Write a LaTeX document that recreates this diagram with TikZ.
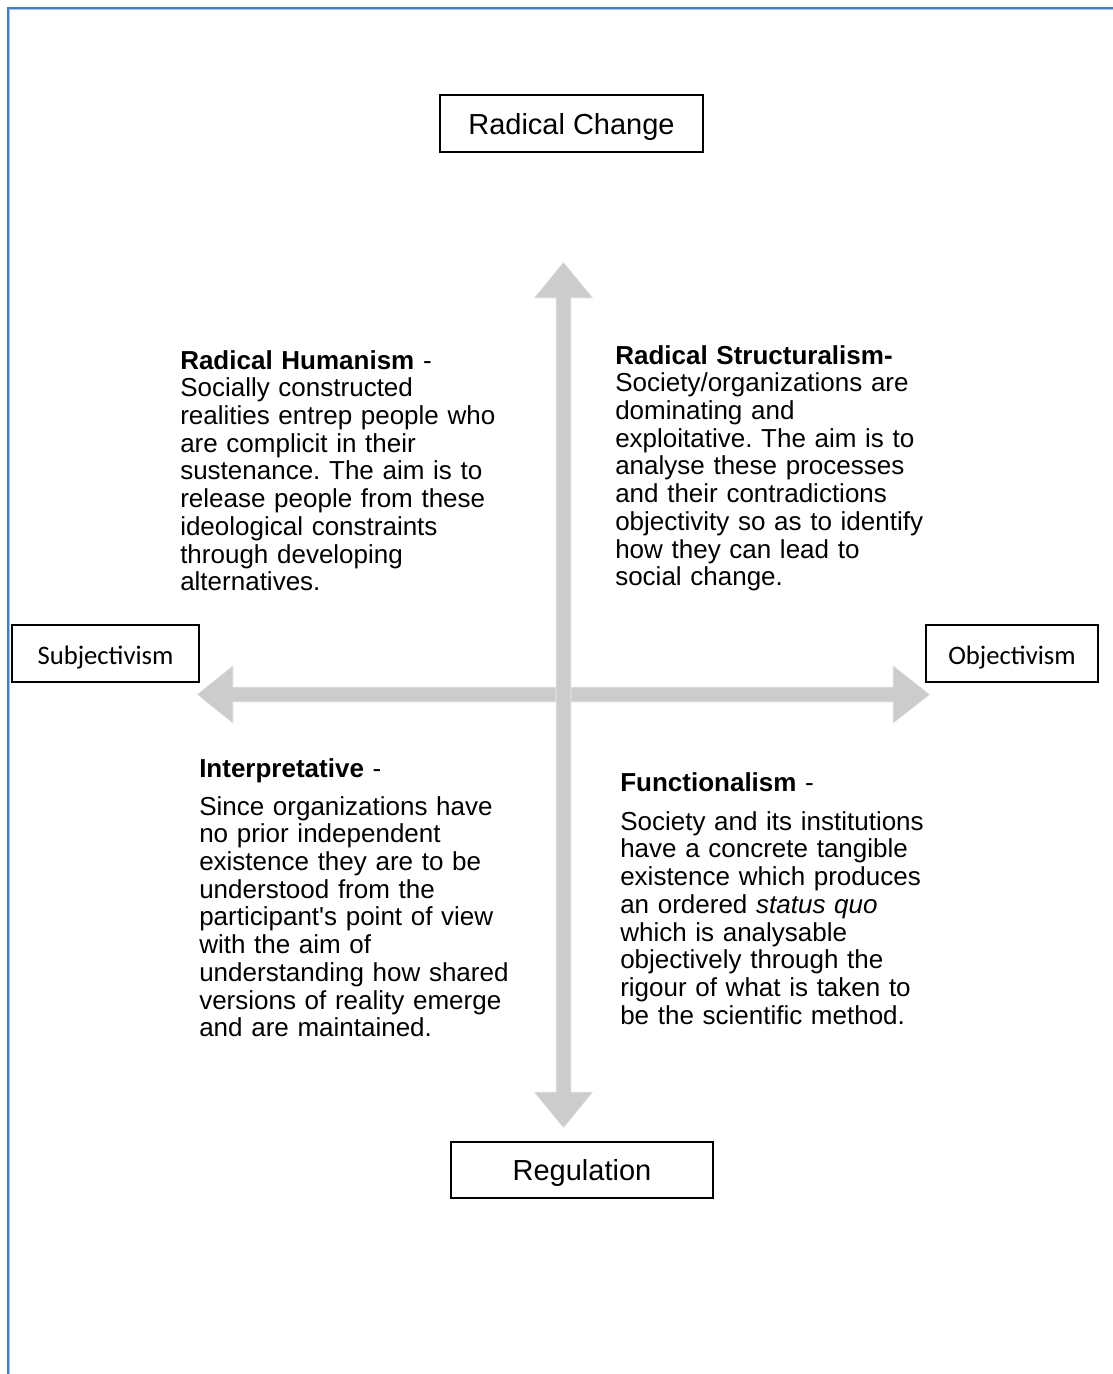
\documentclass[tikz,border=0pt]{standalone}
\usepackage{fontspec}
\setmainfont{Liberation Sans}[Ligatures=TeXOff]
\newfontfamily\labelfont{Carlito}
\usetikzlibrary{calc}
\definecolor{axisgrey}{HTML}{CCCCCC}
\definecolor{frameblue}{HTML}{4A7EBB}
\definecolor{framelight}{HTML}{A9C2E0}
\tikzset{
  polebox/.style={draw=black, line width=1.3pt, inner sep=0pt, align=center,
    text height=21pt, text depth=4.6pt,
    font=\fontsize{21.75}{25}\selectfont},
  sidebox/.style={draw=black, line width=1.3pt, inner sep=0pt, align=center,
    minimum height=42.75pt, text height=20pt, text depth=4pt,
    font=\labelfont\fontsize{20}{24}\selectfont},
  quadtext/.style={anchor=base west, inner sep=0pt, align=left, text width=270pt,
    font=\fontsize{19.5}{20.8}\selectfont},
  axisarrow/.style={fill=axisgrey, draw=gray!12, line width=0.4pt},
}
\begin{document}
\frenchspacing
\begin{tikzpicture}[x=0.75pt, y=-0.75pt]
\useasboundingbox (0,0) rectangle (1113,1374);

% page frame (left and top edges)
\draw[framelight, line width=0.8pt] (9.6,1374) -- (9.6,9.6) -- (1113,9.6);
\draw[frameblue, line width=1.1pt] (8,1374) -- (8,8) -- (1113,8);

% pole labels
\node[polebox, minimum width=197.25pt, minimum height=42.75pt] (change) at (571.5,123.5) {Radical Change};
\node[polebox, minimum width=196.5pt, minimum height=42pt] (regulation) at (582,1170) {Regulation};
\node[sidebox, minimum width=140.25pt] (subj) at (105.5,653.5) {Subjectivism};
\node[sidebox, minimum width=129pt] (obj) at (1012,653.5) {Objectivism};

% axis tips
\coordinate (vtop) at (563.5,262);
\coordinate (vbot) at (563.5,1128);
\coordinate (hleft) at (197,694.5);
\coordinate (hright) at (930,694.5);

% horizontal double arrow
\filldraw[axisarrow] (hleft) -- ++(36,-29) -- ++(0,21.5) -- ($(hright)+(-37,-7.5)$)
  -- ++(0,-21.5) -- (hright) -- ++(-37,29) -- ++(0,-21.5) -- ($(hleft)+(36,7.5)$)
  -- ++(0,21.5) -- cycle;
% vertical double arrow
\filldraw[axisarrow] (vtop) -- ++(29.5,36) -- ++(-22,0) -- ($(vbot)+(7.5,-36)$)
  -- ++(22,0) -- (vbot) -- ++(-29.5,-36) -- ++(22,0) -- ($(vtop)+(-7.5,36)$)
  -- ++(-22,0) -- cycle;

% quadrant descriptions
\node[quadtext] (humanism) at (180,369) {\textbf{Radical Humanism} -\\
Socially constructed\\
realities entrep people who\\
are complicit in their\\
sustenance. The aim is to\\
release people from these\\
ideological constraints\\
through developing\\
alternatives.};

\node[quadtext] (structuralism) at (615,364) {\textbf{Radical Structuralism-}\\
Society/organizations are\\
dominating and\\
exploitative. The aim is to\\
analyse these processes\\
and their contradictions\\
objectivity so as to identify\\
how they can lead to\\
social change.};

\node[quadtext] (interpretative) at (199,777) {\textbf{Interpretative} -\\[7.7pt]
Since organizations have\\
no prior independent\\
existence they are to be\\
understood from the\\
participant's point of view\\
with the aim of\\
understanding how shared\\
versions of reality emerge\\
and are maintained.};

\node[quadtext] (functionalism) at (620,791) {\textbf{Functionalism} -\\[8.5pt]
Society and its institutions\\
have a concrete tangible\\
existence which produces\\
an ordered \textit{status quo}\\
which is analysable\\
objectively through the\\
rigour of what is taken to\\
be the scientific method.};
\end{tikzpicture}
\end{document}
